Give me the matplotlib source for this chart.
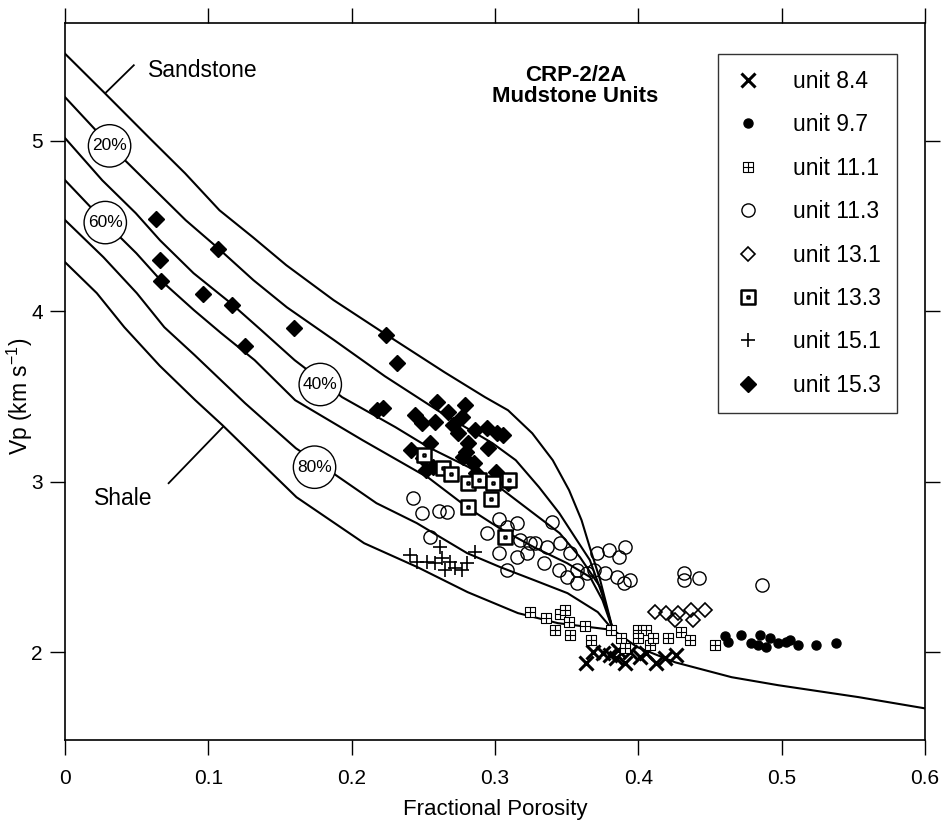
import matplotlib
matplotlib.use("Agg")
import matplotlib.pyplot as plt
from matplotlib.path import Path

plt.rcParams['font.family'] = ['Liberation Sans', 'DejaVu Sans']
plt.rcParams['mathtext.default'] = 'regular'

# model curves: porosity, Vp (km/s)
sand_x = [0.0, 0.0271, 0.0604, 0.0837, 0.1077, 0.1310, 0.1543, 0.1873, 0.2225, 0.2647,
          0.2929, 0.3090, 0.3259, 0.3402, 0.3516, 0.3603, 0.3660, 0.3733, 0.3822]
sand_y = [5.51, 5.284, 5.003, 4.809, 4.592, 4.434, 4.270, 4.065, 3.871, 3.642,
          3.496, 3.419, 3.284, 3.126, 2.950, 2.774, 2.616, 2.422, 2.13]
c20_x = [0.0, 0.0311, 0.0608, 0.0841, 0.1067, 0.1314, 0.1547, 0.1877, 0.2230, 0.2651,
         0.2981, 0.3144, 0.3306, 0.3448, 0.3570, 0.3661, 0.3749, 0.3822]
c20_y = [5.255, 4.974, 4.727, 4.534, 4.370, 4.182, 4.023, 3.830, 3.619, 3.390,
         3.226, 3.126, 2.968, 2.815, 2.657, 2.540, 2.334, 2.13]
c40_x = [0.0, 0.0259, 0.0493, 0.0662, 0.0896, 0.1156, 0.1368, 0.1601, 0.1777, 0.1932,
         0.2304, 0.2535, 0.2816, 0.3056, 0.3267, 0.3450, 0.3592, 0.3734, 0.3822]
c40_y = [5.015, 4.768, 4.575, 4.416, 4.223, 4.047, 3.889, 3.713, 3.60, 3.496,
         3.320, 3.202, 3.085, 2.950, 2.815, 2.698, 2.557, 2.381, 2.13]
c60_x = [0.0, 0.0278, 0.0497, 0.0666, 0.0899, 0.1089, 0.1322, 0.1605, 0.2076, 0.2538,
         0.2813, 0.3031, 0.3270, 0.3502, 0.3663, 0.3749, 0.3822]
c60_y = [4.768, 4.522, 4.340, 4.182, 4.006, 3.871, 3.713, 3.478, 3.243, 3.021,
         2.845, 2.727, 2.616, 2.522, 2.440, 2.305, 2.13]
c80_x = [0.0, 0.0267, 0.0500, 0.0692, 0.0904, 0.1256, 0.1610, 0.1869, 0.2172, 0.2453,
         0.2804, 0.3035, 0.3273, 0.3505, 0.3716, 0.3822]
c80_y = [4.534, 4.317, 4.106, 3.906, 3.742, 3.460, 3.196, 3.050, 2.874, 2.757,
         2.581, 2.499, 2.422, 2.346, 2.235, 2.13]
shale_x = [0.0, 0.0221, 0.0413, 0.0660, 0.0908, 0.1098, 0.1614, 0.2086, 0.2457, 0.2808, 0.3159,
           0.3438, 0.3822, 0.399, 0.4257, 0.465, 0.4975, 0.5536, 0.6]
shale_y = [4.287, 4.106, 3.906, 3.680, 3.478, 3.331, 2.909, 2.639, 2.499, 2.352, 2.229,
           2.170, 2.13, 2.03, 1.94, 1.853, 1.806, 1.736, 1.67]

# measured samples
u84_x = [0.3637, 0.3685, 0.3755, 0.3804, 0.3846, 0.3908, 0.3943, 0.4013, 0.4055, 0.4124, 0.4187, 0.4264, 0.3860]
u84_y = [1.935, 2.000, 1.994, 1.982, 1.965, 1.935, 2.000, 1.971, 1.994, 1.935, 1.965, 1.982, 2.012]
u97_x = [0.4603, 0.4624, 0.4715, 0.4784, 0.4847, 0.4889, 0.4917, 0.4973, 0.5028, 0.5056, 0.5112, 0.5237, 0.5377, 0.4833]
u97_y = [2.094, 2.059, 2.100, 2.053, 2.100, 2.029, 2.082, 2.053, 2.059, 2.070, 2.041, 2.041, 2.053, 2.041]
u111_x = [0.3244, 0.3356, 0.3419, 0.3453, 0.3488, 0.3516, 0.3523, 0.3628, 0.3669, 0.3809, 0.3879,
          0.3906, 0.3997, 0.4053, 0.3997, 0.4081, 0.4206, 0.4297, 0.4359, 0.4534, 0.4101]
u111_y = [2.235, 2.199, 2.129, 2.223, 2.246, 2.176, 2.100, 2.152, 2.070, 2.129, 2.082,
          2.023, 2.129, 2.129, 2.082, 2.041, 2.082, 2.117, 2.070, 2.041, 2.082]
u113_x = [0.2429, 0.2487, 0.2605, 0.2661, 0.2544, 0.2942, 0.3030, 0.3150, 0.3394, 0.3027,
          0.3084, 0.3173, 0.3277, 0.3361, 0.3222, 0.3451, 0.3522, 0.3342, 0.3446, 0.3503,
          0.3572, 0.3643, 0.3710, 0.3690, 0.3768, 0.3794, 0.3864, 0.3904, 0.3852, 0.3901,
          0.3942, 0.3574, 0.3153, 0.3242, 0.3080, 0.4318, 0.4318, 0.4423, 0.4863]
u113_y = [2.903, 2.815, 2.827, 2.821, 2.674, 2.698, 2.780, 2.757, 2.762, 2.581,
          2.481, 2.657, 2.639, 2.616, 2.581, 2.639, 2.581, 2.522, 2.481, 2.440,
          2.481, 2.463, 2.581, 2.481, 2.463, 2.598, 2.557, 2.616, 2.440, 2.405,
          2.422, 2.405, 2.557, 2.639, 2.733, 2.463, 2.422, 2.434, 2.393]
u131_x = [0.4113, 0.4190, 0.4274, 0.4253, 0.4364, 0.4378, 0.4462]
u131_y = [2.235, 2.229, 2.229, 2.188, 2.246, 2.188, 2.246]
u133_x = [0.2502, 0.2636, 0.2692, 0.2811, 0.2888, 0.2985, 0.3097, 0.2974, 0.2813, 0.3067]
u133_y = [3.155, 3.079, 3.044, 2.991, 3.009, 2.991, 3.009, 2.897, 2.850, 2.674]
u151_x = [0.2408, 0.2457, 0.2527, 0.2582, 0.2617, 0.2631, 0.2687, 0.2722, 0.2770, 0.2805, 0.2861, 0.2652]
u151_y = [2.569, 2.528, 2.528, 2.522, 2.616, 2.551, 2.528, 2.493, 2.481, 2.522, 2.587, 2.481]
u153_x = [0.0632, 0.1067, 0.0664, 0.0666, 0.0960, 0.1164, 0.1598, 0.1258, 0.2240, 0.2318,
          0.2177, 0.2219, 0.2594, 0.2789, 0.2672, 0.2442, 0.2492, 0.2582, 0.2708, 0.2770,
          0.2862, 0.2946, 0.3015, 0.3057, 0.2744, 0.2814, 0.2549, 0.2411, 0.2496, 0.2565,
          0.2518, 0.2794, 0.2948, 0.2773, 0.2851, 0.2866, 0.3005, 0.3090]
u153_y = [4.540, 4.364, 4.299, 4.176, 4.100, 4.035, 3.900, 3.795, 3.859, 3.695,
          3.419, 3.431, 3.466, 3.449, 3.408, 3.390, 3.343, 3.349, 3.331, 3.378,
          3.302, 3.314, 3.284, 3.273, 3.284, 3.226, 3.226, 3.185, 3.138, 3.085,
          3.067, 3.173, 3.196, 3.144, 3.109, 3.050, 3.056, 2.991]

clay_labels = ['20%', '40%', '60%', '80%']
clay_label_x = [0.031, 0.178, 0.028, 0.174]
clay_label_y = [4.97, 3.57, 4.52, 3.085]

M, L, C = Path.MOVETO, Path.LINETO, Path.CLOSEPOLY
grid_square = Path([(-1, -1), (1, -1), (1, 1), (-1, 1), (-1, -1), (0, -1), (0, 1), (-1, 0), (1, 0)],
                   [M, L, L, L, C, M, L, M, L])
dot_square = Path([(-1, -1), (1, -1), (1, 1), (-1, 1), (-1, -1),
                   (-0.1, -0.1), (0.1, -0.1), (0.1, 0.1), (-0.1, 0.1), (-0.1, -0.1)],
                  [M, L, L, L, C, M, L, L, L, C])

fig = plt.figure(figsize=(9.44, 8.26), dpi=100)
ax = fig.add_axes([0.069, 0.104, 0.911, 0.868])

for cx, cy in [(sand_x, sand_y), (c20_x, c20_y), (c40_x, c40_y),
               (c60_x, c60_y), (c80_x, c80_y), (shale_x, shale_y)]:
    ax.plot(cx, cy, color='black', lw=1.5, zorder=2)

ax.plot(u84_x, u84_y, ls='none', marker='x', ms=10.5, mew=2.2, color='black', label='unit 8.4', zorder=3)
ax.plot(u97_x, u97_y, ls='none', marker='o', ms=6.5, color='black', label='unit 9.7', zorder=3)
ax.plot(u111_x, u111_y, ls='none', marker=grid_square, ms=6.5, mew=0.8, mfc='white', mec='black',
        label='unit 11.1', zorder=3)
ax.plot(u113_x, u113_y, ls='none', marker='o', ms=9.5, mew=1.0, mfc='none', mec='black',
        label='unit 11.3', zorder=3)
ax.plot(u131_x, u131_y, ls='none', marker='D', ms=7, mew=1.2, mfc='none', mec='black',
        label='unit 13.1', zorder=3)
ax.plot(u133_x, u133_y, ls='none', marker=dot_square, ms=9.5, mew=1.8, mfc='white', mec='black',
        label='unit 13.3', zorder=4)
ax.plot(u151_x, u151_y, ls='none', marker='+', ms=10, mew=1.2, color='black', label='unit 15.1', zorder=3)
ax.plot(u153_x, u153_y, ls='none', marker='D', ms=8.5, color='black', label='unit 15.3', zorder=3)

for t, lx, ly in zip(clay_labels, clay_label_x, clay_label_y):
    ax.text(lx, ly, t, ha='center', va='center', fontsize=12.5, zorder=6,
            bbox=dict(boxstyle='circle,pad=0.22', fc='white', ec='black', lw=1.0))

ax.plot([0.0286, 0.0479], [5.284, 5.443], color='black', lw=1.3)
ax.text(0.0575, 5.413, 'Sandstone', ha='left', va='center', fontsize=16.5)
ax.plot([0.110, 0.0722], [3.320, 2.991], color='black', lw=1.3)
ax.text(0.020, 2.903, 'Shale', ha='left', va='center', fontsize=16.5)

ax.text(0.356, 5.32, 'CRP-2/2A\nMudstone Units', ha='center', va='center', fontsize=16,
        fontweight='bold', linespacing=1.0)

leg = ax.legend(loc='upper right', bbox_to_anchor=(0.967, 0.957), fontsize=16.5, frameon=True,
                fancybox=False, edgecolor='black', handlelength=1.2, handletextpad=1.35,
                labelspacing=0.89, borderpad=0.7, borderaxespad=0)
leg.get_frame().set_linewidth(1.0)

ax.set_xlim(0, 0.6)
ax.set_ylim(1.484, 5.69)
ax.set_xticks([0, 0.1, 0.2, 0.3, 0.4, 0.5, 0.6])
ax.set_xticklabels(['0', '0.1', '0.2', '0.3', '0.4', '0.5', '0.6'])
ax.set_yticks([2, 3, 4, 5])
ax.tick_params(direction='out', length=11, width=1.0, top=True, right=True, labelsize=15)
ax.tick_params(axis='x', pad=10)
ax.tick_params(axis='y', pad=5)
for s in ax.spines.values():
    s.set_linewidth(1.2)

ax.set_xlabel('Fractional Porosity', fontsize=16, labelpad=8)
ax.set_ylabel('Vp (km s$^{-1}$)', fontsize=16.5)
ax.yaxis.set_label_coords(-0.035, 0.48)

fig.savefig('out.png', dpi=100)
